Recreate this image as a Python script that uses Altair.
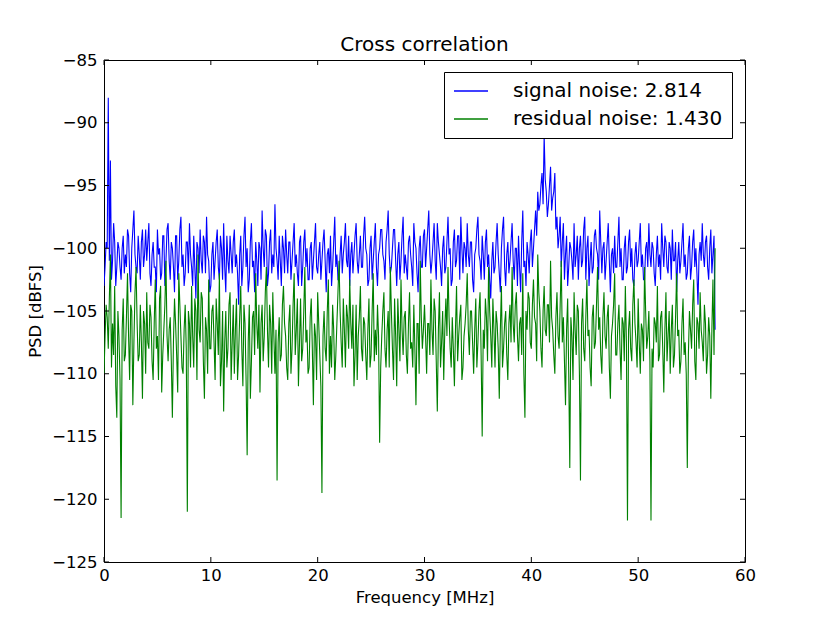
import altair as alt
import pandas as pd

# PSD values (dBFS).
# *_psd are at 0.0, 0.2, 0.4 ... 57.2 MHz; *_mid are at 0.1, 0.3 ... 57.1 MHz
step_mhz = 0.2

signal_psd = [
    -103.0, -99.5, -88.0, -93.0, -101.0, -99.5, -101.5, -100.0, -102.5, -99.0,
    -100.5, -98.5, -102.0, -100.0, -97.0, -101.5, -99.0, -102.5, -98.5, -100.5,
    -101.0, -98.0, -103.0, -99.5, -101.5, -98.5, -100.0, -102.0, -99.0, -101.0,
    -98.0, -102.5, -100.0, -103.5, -99.0, -101.0, -97.5, -100.5, -102.0, -99.5,
    -98.0, -101.5, -99.0, -104.0, -100.0, -98.5, -102.0, -99.5, -97.5, -101.0,
    -103.0, -99.5, -101.0, -98.5, -102.5, -100.0, -98.0, -103.5, -101.0, -99.0,
    -102.0, -98.5, -100.5, -104.5, -99.0, -101.5, -97.5, -100.0, -102.5, -98.0,
    -101.0, -99.5, -103.0, -100.0, -97.0, -101.5, -99.0, -102.0, -98.5, -100.5,
    -96.5, -101.0, -99.0, -103.0, -100.0, -98.5, -102.0, -99.5, -101.0, -98.0,
    -100.5, -103.0, -99.0, -101.5, -98.5, -100.0, -102.5, -99.5, -101.0, -98.0,
    -102.0, -99.5, -101.0, -98.5, -103.5, -100.0, -99.0, -101.5, -97.5, -100.5,
    -102.5, -99.0, -100.5, -98.0, -101.5, -103.0, -99.5, -100.5, -98.0, -102.0,
    -99.0, -101.5, -97.5, -100.5, -102.5, -99.0, -101.0, -98.0, -103.0, -100.0,
    -98.5, -101.0, -99.5, -97.0, -102.0, -100.0, -98.5, -103.0, -99.5, -101.0,
    -97.5, -100.5, -102.5, -99.0, -101.5, -98.0, -100.0, -103.5, -99.0, -101.5,
    -98.5, -100.0, -97.0, -102.0, -99.5, -101.0, -98.0, -100.5, -103.0, -99.0,
    -101.5, -97.5, -100.0, -102.5, -98.5, -101.0, -99.0, -97.5, -102.0, -100.0,
    -98.0, -101.5, -99.5, -103.5, -100.0, -97.5, -101.0, -99.0, -102.5, -98.5,
    -100.5, -104.0, -99.5, -101.5, -98.0, -102.0, -100.0, -97.5, -103.0, -99.5,
    -101.0, -98.0, -102.5, -100.0, -99.0, -103.5, -97.0, -101.0, -99.5, -102.0,
    -98.5, -100.0, -97.0, -95.5, -96.5, -94.0, -91.0, -95.5, -96.5, -93.5,
    -96.0, -94.0, -97.5, -99.0, -101.5, -98.0, -100.5, -103.0, -99.5, -101.0,
    -98.0, -100.5, -102.5, -99.0, -101.0, -97.5, -100.0, -103.0, -99.5, -101.5,
    -98.5, -100.5, -97.0, -102.0, -99.5, -101.0, -98.0, -103.5, -100.0, -99.0,
    -101.5, -97.5, -100.0, -102.5, -99.0, -101.5, -98.5, -100.0, -103.0, -99.5,
    -101.0, -98.0, -100.5, -102.5, -99.5, -98.0, -101.5, -100.0, -103.0, -99.0,
    -100.5, -98.0, -101.5, -99.5, -102.0, -100.0, -98.5, -101.0, -103.5, -99.5,
    -101.0, -98.0, -100.5, -102.0, -99.0, -101.5, -98.5, -100.0, -104.5, -99.5,
    -98.0, -101.5, -99.0, -102.5, -98.5, -100.5, -106.5,
]

signal_mid = [
    -101.5, -100.0, -101.0, -102.5, -98.0, -103.0, -99.5, -101.5, -100.0, -102.0,
    -101.5, -99.0, -103.5, -98.5, -100.5, -102.0, -100.5, -99.5, -101.5, -98.5,
    -99.5, -102.0, -100.5, -101.5, -103.5, -100.5, -102.5, -99.0, -103.0, -98.5,
    -101.0, -99.5, -101.5, -99.0, -102.5, -98.5, -101.5, -103.0, -99.5, -102.0,
    -100.5, -103.0, -101.5, -99.5, -102.0, -101.0, -99.0, -102.0, -100.5, -103.5,
    -100.5, -102.5, -99.5, -101.5, -99.0, -102.5, -101.5, -99.0, -102.0, -100.5,
    -99.5, -101.5, -102.0, -100.5, -103.0, -99.0, -101.5, -103.5, -99.5, -101.5,
    -103.5, -101.0, -99.5, -102.5, -100.0, -98.5, -103.0, -99.5, -102.0, -101.5,
    -100.0, -102.5, -101.0, -99.0, -102.0, -100.5, -99.5, -102.5, -99.5, -101.5,
    -102.0, -99.5, -103.0, -99.5, -101.5, -102.5, -100.0, -102.5, -99.5, -101.5,
    -100.5, -102.5, -99.5, -101.0, -100.5, -102.0, -103.0, -99.5, -101.5, -102.5,
    -100.5, -102.0, -99.5, -101.0, -99.0, -100.5, -102.0, -99.0, -101.0, -100.5,
    -101.5, -99.0, -100.0, -103.0, -100.0, -102.5, -99.5, -101.5, -100.5, -98.5,
    -100.5, -102.5, -98.5, -100.5, -101.5, -98.5, -101.0, -100.5, -102.5, -99.0,
    -102.0, -101.5, -99.5, -100.5, -103.0, -99.5, -102.0, -100.0, -101.5, -99.0,
    -101.5, -98.5, -100.5, -101.0, -98.0, -102.5, -99.5, -101.5, -100.0, -102.0,
    -99.5, -100.5, -103.0, -99.5, -101.5, -99.0, -102.5, -100.0, -99.5, -101.5,
    -100.5, -99.5, -102.5, -100.5, -98.5, -100.5, -102.5, -100.5, -99.5, -101.5,
    -102.5, -101.0, -102.0, -99.5, -100.5, -103.5, -98.5, -101.5, -100.5, -102.0,
    -99.5, -101.0, -100.0, -103.0, -101.5, -99.5, -101.5, -103.0, -100.5, -99.5,
    -101.5, -98.5, -99.0, -97.0, -95.0, -96.5, -94.5, -97.5, -95.0, -97.0,
    -95.5, -98.5, -100.0, -97.5, -99.5, -102.5, -99.0, -101.5, -100.0, -102.5,
    -101.5, -99.0, -100.0, -101.5, -98.5, -102.5, -99.0, -101.0, -102.0, -99.0,
    -100.0, -102.5, -99.5, -100.0, -102.5, -99.5, -101.0, -100.5, -102.0, -101.5,
    -99.5, -101.5, -102.5, -100.0, -102.0, -99.5, -101.5, -102.5, -100.5, -101.5,
    -99.5, -101.5, -102.5, -100.0, -101.5, -100.5, -99.5, -102.0, -100.5, -101.5,
    -102.5, -100.0, -99.0, -101.5, -99.5, -102.5, -101.0, -99.5, -101.0, -102.0,
    -99.5, -101.5, -102.5, -100.0, -102.5, -99.5, -101.5, -102.0, -100.5, -101.0,
    -100.5, -99.5, -101.5, -100.0, -102.0, -99.0,
]

residual_psd = [
    -110.0, -104.5, -108.0, -100.5, -106.0, -103.0, -113.5, -107.0, -121.5, -104.0,
    -108.5, -102.0, -110.5, -105.0, -107.5, -101.5, -109.0, -104.5, -112.0, -106.0,
    -103.5, -108.0, -105.5, -110.5, -102.5, -107.0, -104.0, -111.5, -106.5, -101.0,
    -109.0, -105.5, -113.5, -104.0, -108.5, -102.0, -107.0, -110.0, -104.5, -121.0,
    -106.0, -103.0, -109.5, -105.0, -100.5, -107.5, -104.0, -112.0, -106.5, -102.5,
    -108.0, -104.5, -110.5, -106.0, -102.0, -109.0, -113.0, -105.0, -108.0, -103.5,
    -107.5, -110.0, -104.0, -108.5, -103.0, -111.0, -106.0, -116.5, -104.5, -109.0,
    -105.0, -102.0, -108.0, -111.5, -104.5, -107.0, -101.5, -109.5, -106.0, -103.5,
    -110.0, -118.5, -105.5, -108.5, -103.0, -107.0, -110.5, -104.5, -108.0, -102.0,
    -106.5, -111.0, -104.0, -108.0, -101.5, -106.5, -109.5, -104.0, -112.5, -107.0,
    -103.5, -108.5, -119.5, -105.0, -109.0, -102.5, -107.0, -104.5, -110.5, -106.0,
    -101.0, -107.5, -104.0, -109.5, -105.5, -102.5, -108.0, -111.0, -104.5, -107.0,
    -103.0, -109.0, -106.0, -110.5, -104.0, -108.5, -102.0, -106.5, -104.5, -115.5,
    -107.0, -103.5, -109.5, -105.0, -101.5, -108.0, -104.0, -111.0, -106.5, -102.5,
    -108.5, -105.0, -110.0, -103.5, -107.5, -104.5, -112.5, -106.0, -101.0, -108.0,
    -104.5, -110.0, -106.0, -102.5, -108.5, -105.0, -113.0, -103.5, -107.5, -110.5,
    -104.0, -101.5, -108.0, -105.5, -111.0, -103.0, -107.0, -104.5, -109.5, -106.0,
    -102.0, -108.5, -105.0, -110.0, -104.0, -107.5, -103.5, -115.0, -108.0, -105.5,
    -101.5, -107.0, -104.0, -109.5, -106.0, -112.0, -103.0, -108.0, -105.0, -110.5,
    -104.5, -101.5, -107.5, -103.5, -109.0, -105.5, -102.0, -113.5, -106.5, -104.0,
    -108.0, -102.5, -106.0, -100.5, -105.0, -109.5, -103.0, -107.0, -104.5, -101.0,
    -106.5, -110.0, -103.5, -108.0, -101.0, -105.5, -112.5, -104.0, -117.5, -107.0,
    -103.5, -108.5, -105.0, -118.5, -104.0, -109.0, -102.5, -106.5, -111.0, -104.5,
    -107.5, -101.5, -105.5, -110.0, -103.5, -108.0, -104.5, -112.0, -106.0, -102.0,
    -108.5, -104.5, -110.5, -106.0, -103.0, -121.7, -105.0, -109.0, -102.5, -107.5,
    -104.0, -110.0, -106.5, -101.5, -108.0, -105.0, -121.7, -109.5, -106.0, -103.0,
    -108.5, -105.0, -111.5, -103.5, -107.0, -110.0, -104.5, -108.5, -102.0, -106.5,
    -109.0, -104.0, -107.5, -117.5, -105.0, -108.0, -102.5, -110.5, -106.0, -103.5,
    -107.5, -104.5, -110.0, -105.5, -112.0, -102.5, -100.0,
]

residual_mid = [
    -107.0, -105.5, -104.0, -109.5, -108.5, -111.0, -105.0, -110.5, -106.5, -109.0,
    -105.5, -107.0, -104.5, -112.5, -103.5, -106.0, -108.5, -107.5, -105.0, -110.0,
    -107.5, -104.5, -109.0, -106.0, -108.0, -110.5, -103.0, -108.5, -104.5, -107.0,
    -106.5, -109.0, -107.5, -106.0, -111.5, -104.5, -109.5, -106.5, -108.0, -105.0,
    -109.5, -107.0, -104.0, -110.5, -106.5, -103.5, -109.0, -105.5, -110.0, -108.0,
    -105.0, -107.5, -104.0, -108.5, -111.0, -105.0, -107.5, -109.5, -104.5, -110.5,
    -104.5, -106.5, -110.5, -105.5, -108.0, -104.5, -110.5, -107.5, -112.0, -105.5,
    -108.5, -106.0, -104.5, -106.0, -109.0, -103.5, -106.5, -104.5, -110.0, -107.0,
    -106.5, -107.5, -109.0, -104.5, -106.0, -109.5, -106.0, -110.0, -104.5, -108.5,
    -104.0, -107.5, -109.0, -105.0, -107.5, -110.0, -105.5, -108.0, -106.0, -110.5,
    -106.0, -111.0, -107.0, -108.0, -105.0, -110.0, -109.5, -106.5, -108.5, -103.5,
    -105.0, -109.5, -106.5, -104.5, -108.0, -106.0, -104.5, -108.5, -110.5, -105.5,
    -108.0, -105.5, -108.5, -106.5, -109.5, -105.0, -109.0, -108.5, -107.0, -109.5,
    -105.0, -108.0, -106.5, -109.5, -105.0, -110.5, -107.0, -104.0, -109.0, -106.5,
    -105.5, -108.5, -106.0, -108.0, -109.5, -108.0, -106.0, -110.0, -105.5, -106.5,
    -107.0, -106.0, -108.5, -106.5, -104.0, -109.0, -106.5, -109.5, -105.0, -106.5,
    -107.0, -105.5, -109.5, -108.0, -106.5, -109.0, -105.5, -110.5, -107.0, -104.5,
    -106.5, -105.0, -107.5, -106.5, -109.5, -105.0, -108.5, -106.5, -104.0, -109.0,
    -105.0, -109.5, -106.5, -105.0, -108.0, -106.5, -109.5, -106.0, -108.5, -106.0,
    -107.5, -106.0, -104.5, -107.0, -106.0, -108.5, -110.0, -105.0, -103.5, -107.5,
    -104.5, -105.5, -109.0, -103.5, -108.0, -105.0, -106.5, -104.5, -107.5, -105.5,
    -108.5, -105.5, -107.0, -104.5, -107.5, -109.0, -106.5, -110.0, -105.5, -110.5,
    -106.5, -104.5, -110.0, -106.0, -108.0, -105.5, -107.0, -109.5, -105.5, -108.0,
    -104.5, -106.5, -108.5, -105.5, -107.0, -105.5, -109.5, -107.0, -104.5, -108.5,
    -106.0, -108.0, -105.5, -109.0, -107.5, -106.5, -108.0, -104.5, -106.0, -109.5,
    -107.5, -106.0, -109.0, -105.0, -107.0, -109.0, -108.0, -105.5, -107.5, -109.0,
    -105.5, -108.0, -106.5, -109.0, -105.0, -106.5, -109.5, -105.5, -107.0, -110.0,
    -106.0, -108.5, -110.0, -108.5, -106.5, -104.5, -109.0, -105.5, -108.0, -106.5,
    -109.0, -106.0, -108.5, -107.0, -106.5, -108.5,
]

series_names = ["signal noise: 2.814", "residual noise: 1.430"]
series_colors = ["#0000ff", "#008000"]
x_ticks = [0, 10, 20, 30, 40, 50, 60]
y_ticks = [-125, -120, -115, -110, -105, -100, -95, -90, -85]

W, H = 641, 502
FONT = "DejaVu Sans"
TL = 5  # inward tick length (px)


def series_frame(main, mid, name):
    f = [round(i * step_mhz, 1) for i in range(len(main))]
    f += [round(i * step_mhz + step_mhz / 2, 2) for i in range(len(mid))]
    df = pd.DataFrame({"f": f, "psd": list(main) + list(mid), "series": name})
    return df.sort_values("f").reset_index(drop=True)


df_sig = series_frame(signal_psd, signal_mid, series_names[0])
df_res = series_frame(residual_psd, residual_mid, series_names[1])
df_xt = pd.DataFrame({"f": x_ticks})
df_yt = pd.DataFrame({"psd": y_ticks})

xscale = alt.Scale(domain=[0, 60], nice=False, zero=False)
yscale = alt.Scale(domain=[-125, -85], nice=False, zero=False)
common_axis = dict(format="d", grid=False, ticks=False, domain=False, labelFlush=False,
                   labelFont=FONT, labelFontSize=16.5, labelColor="black",
                   titleFont=FONT, titleFontSize=16.5, titleColor="black",
                   titleFontWeight="normal")
xaxis = alt.Axis(title="Frequency [MHz]", values=x_ticks, labelPadding=5,
                 titlePadding=6, **common_axis)
yaxis = alt.Axis(title="PSD [dBFS]", values=y_ticks, labelPadding=7,
                 titlePadding=8, **common_axis)

color = alt.Color(
    "series:N",
    scale=alt.Scale(domain=series_names, range=series_colors),
    legend=alt.Legend(
        title=None, orient="none", legendX=340, legendY=12,
        symbolType="stroke", symbolSize=1156, symbolStrokeWidth=1.3,
        labelFont=FONT, labelFontSize=20, labelLimit=400, labelOffset=24,
        labelColor="black", clipHeight=20,
        padding=9, rowPadding=8, strokeColor="black", fillColor="white",
        cornerRadius=0,
    ),
)


def line_layer(df):
    return alt.Chart(df).mark_line(strokeWidth=1.1, clip=True).encode(
        x=alt.X("f:Q", scale=xscale, axis=xaxis),
        y=alt.Y("psd:Q", scale=yscale, axis=yaxis),
        color=color,
        order=alt.Order("f:Q"),
    )


sig = line_layer(df_sig)
res = line_layer(df_res)

xt_bottom = alt.Chart(df_xt).mark_rule(color="black", strokeWidth=1).encode(
    x=alt.X("f:Q", scale=xscale, axis=xaxis), y=alt.value(H), y2=alt.value(H - TL))
xt_top = alt.Chart(df_xt).mark_rule(color="black", strokeWidth=1).encode(
    x=alt.X("f:Q", scale=xscale, axis=xaxis), y=alt.value(0), y2=alt.value(TL))
yt_left = alt.Chart(df_yt).mark_rule(color="black", strokeWidth=1).encode(
    y=alt.Y("psd:Q", scale=yscale, axis=yaxis), x=alt.value(0), x2=alt.value(TL))
yt_right = alt.Chart(df_yt).mark_rule(color="black", strokeWidth=1).encode(
    y=alt.Y("psd:Q", scale=yscale, axis=yaxis), x=alt.value(W), x2=alt.value(W - TL))

chart = alt.layer(sig, res, xt_bottom, xt_top, yt_left, yt_right).properties(
    width=W, height=H,
    background="white",
    title=alt.Title("Cross correlation", font=FONT, fontSize=20, fontWeight="normal",
                    color="black", offset=2, dy=5, anchor="middle"),
    autosize=alt.AutoSizeParams(type="none"),
    padding={"left": 96, "top": 52, "right": 70, "bottom": 50},
).configure_view(
    stroke="black", strokeWidth=1
)

chart.save("out.html", embed_options={"renderer": "svg", "actions": False})
